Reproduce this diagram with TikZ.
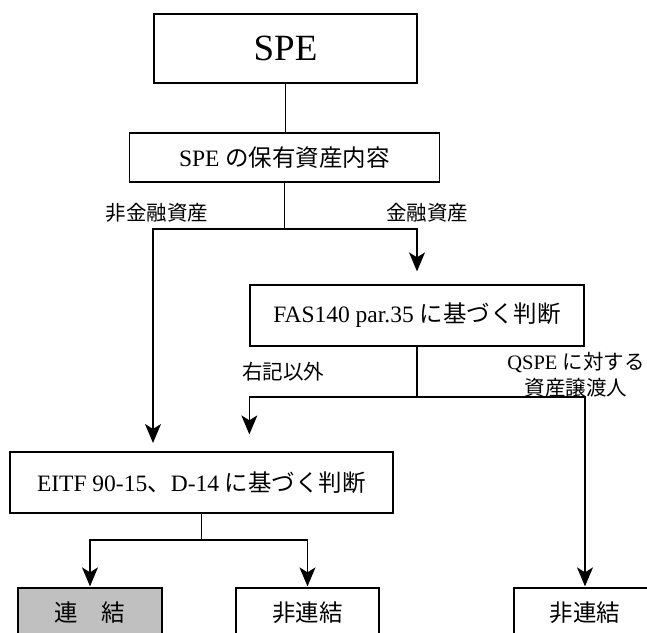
\documentclass[tikz,border=0pt]{standalone}
\usepackage{fontspec}
\setmainfont{Liberation Serif}
\newfontfamily\jp{Noto Sans CJK JP}
\usepackage{tikz}
\usetikzlibrary{arrows.meta,positioning,calc}

\begin{document}
\begin{tikzpicture}[
    x=1pt, y=-1pt,
    block/.style={rectangle, draw, line width=1.3pt, inner sep=0pt, font=\fontsize{23.5}{26}\selectfont},
    label/.style={font=\fontsize{20.5}{26}\selectfont, align=center},
    arrow/.style={-{Stealth[length=19pt, width=16pt, inset=5pt]}, line width=1.3pt},
    link/.style={line width=1.3pt}
]
\clip (0,0) rectangle (647,632);
\node[block, minimum width=263pt, minimum height=69pt, font=\fontsize{37}{40}\selectfont] (spe) at (285.5,48.5) {SPE};
\node[block, minimum width=310pt, minimum height=49pt] (assets) at (284.5,157.5) {SPE {\jp の保有資産内容}};
\node[block, minimum width=334pt, minimum height=61pt] (fas) at (417,315.5) {FAS140 par.35 {\jp に基づく判断}};
\node[block, minimum width=383pt, minimum height=61pt] (eitf) at (201.5,482.5) {EITF 90-15{\jp 、}D-14 {\jp に基づく判断}};
\node[block, minimum width=144pt, minimum height=50pt, fill={rgb,255:red,192;green,192;blue,192}] (consol) at (90,613) {\jp 連　結};
\node[block, minimum width=143pt, minimum height=50pt] (noncona) at (307.5,613) {\jp 非連結};
\node[block, minimum width=142pt, minimum height=50pt] (nonconb) at (585,613) {\jp 非連結};

\node[label] (lnonfin) at (157,213) {\jp 非金融資産};
\node[label] (lfin) at (427,213) {\jp 金融資産};
\node[label] (lother) at (283,372) {\jp 右記以外};
\node[label] (lqspe) at (576,375) {QSPE {\jp に対する}\\{\jp 資産譲渡人}};

\coordinate (splita) at (284.5,229);
\coordinate (splitb) at (417,397);
\coordinate (splitc) at (201.5,540);
\coordinate (nonfin) at (153,452);

\draw[link] (spe.south) -- (spe.south |- assets.north);
\draw[link] (assets) -- (splita);
\draw[arrow, shorten >=9pt] (splita) -| (nonfin);
\draw[arrow, shorten >=13pt] (splita) -| (fas.north);
\draw[link] (fas) -- (splitb);
\draw[arrow, shorten >=17pt] (splitb) -| (fas.south west |- eitf.north);
\draw[arrow, shorten >=1pt] (splitb) -| (nonconb.north);
\draw[link] (eitf) -- (splitc);
\draw[arrow, shorten >=1pt] (splitc) -| (consol.north);
\draw[arrow, shorten >=1pt] (splitc) -| (noncona.north);
\end{tikzpicture}
\end{document}
